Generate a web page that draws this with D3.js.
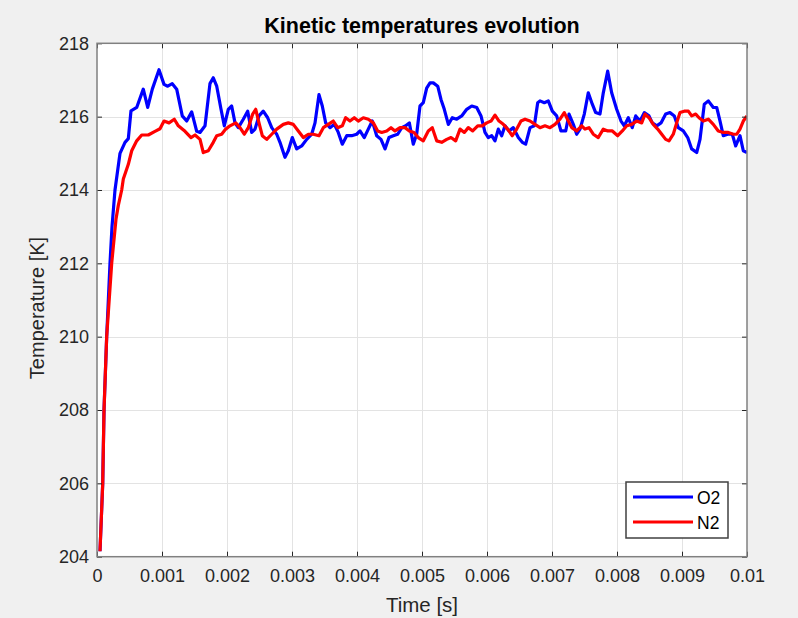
<!DOCTYPE html>
<html>
<head>
<meta charset="utf-8">
<script src="https://cdn.jsdelivr.net/npm/d3@7"></script>
<style>
  html, body { margin: 0; padding: 0; background: #f0f0f0; }
  svg { display: block; font-family: "Liberation Sans", Arial, Helvetica, sans-serif; }
</style>
</head>
<body>
<svg id="chart" width="798" height="618"></svg>
<script>
// Kinetic temperature of O2 and N2 versus simulation time.
// Time samples are given in milliseconds, temperatures in kelvin.
const o2TimeMs = [
  0.046, 0.088, 0.108, 0.149, 0.200, 0.231, 0.277, 0.354, 0.431, 0.482,
  0.523, 0.611, 0.712, 0.780, 0.851, 0.954, 1.031, 1.088, 1.158, 1.226,
  1.312, 1.380, 1.457, 1.534, 1.585, 1.662, 1.738, 1.789, 1.842, 1.908,
  1.958, 2.020, 2.072, 2.123, 2.174, 2.251, 2.318, 2.380, 2.431, 2.492,
  2.558, 2.626, 2.688, 2.765, 2.815, 2.892, 2.943, 3.005, 3.072, 3.149,
  3.226, 3.303, 3.354, 3.415, 3.466, 3.518, 3.585, 3.651, 3.712, 3.774,
  3.842, 3.918, 3.995, 4.046, 4.112, 4.174, 4.235, 4.303, 4.369, 4.431,
  4.492, 4.558, 4.626, 4.688, 4.749, 4.805, 4.866, 4.918, 4.969, 5.020,
  5.072, 5.123, 5.174, 5.242, 5.292, 5.343, 5.405, 5.466, 5.534, 5.611,
  5.688, 5.765, 5.842, 5.908, 5.969, 6.020, 6.072, 6.123, 6.174, 6.226,
  6.277, 6.338, 6.405, 6.482, 6.543, 6.595, 6.662, 6.728, 6.780, 6.815,
  6.882, 6.943, 7.005, 7.072, 7.138, 7.211, 7.262, 7.328, 7.380, 7.431,
  7.497, 7.558, 7.620, 7.672, 7.738, 7.789, 7.857, 7.918, 7.995, 8.062,
  8.112, 8.174, 8.235, 8.288, 8.354, 8.420, 8.492, 8.543, 8.611, 8.677,
  8.749, 8.815, 8.882, 8.943, 9.020, 9.088, 9.149, 9.226, 9.277, 9.343,
  9.405, 9.482, 9.534, 9.585, 9.635, 9.703, 9.774, 9.826, 9.892, 9.943,
  10.000
];
const o2Temp = [
  204.15, 206.0, 208.0, 210.0, 212.0, 213.0, 214.0, 215.0, 215.3, 215.4,
  216.16, 216.25, 216.75, 216.25, 216.75, 217.28, 216.88, 216.83, 216.9, 216.75,
  216.02, 215.88, 216.13, 215.6, 215.57, 215.75, 216.9, 217.06, 216.83, 216.2,
  215.75, 216.2, 216.29, 215.83, 215.7, 215.93, 216.15, 215.57, 215.66, 216.02,
  216.15, 215.97, 215.7, 215.52, 215.3, 214.89, 215.07, 215.43, 215.12, 215.2,
  215.38, 215.52, 215.83, 216.6, 216.29, 215.83, 215.7, 215.79, 215.57, 215.25,
  215.48, 215.48, 215.52, 215.61, 215.43, 215.66, 215.88, 215.48, 215.38, 215.12,
  215.43, 215.48, 215.52, 215.7, 215.75, 215.83, 215.25, 215.52, 216.29, 216.38,
  216.78, 216.92, 216.92, 216.83, 216.47, 216.2, 215.79, 215.97, 215.93, 216.02,
  216.2, 216.29, 216.25, 216.02, 215.57, 215.43, 215.48, 215.34, 215.66, 215.48,
  215.75, 215.61, 215.7, 215.43, 215.3, 215.25, 215.7, 215.75, 216.38, 216.43,
  216.38, 216.43, 216.15, 216.02, 215.61, 215.61, 216.07, 215.79, 215.52, 215.66,
  216.07, 216.65, 216.34, 216.11, 216.07, 216.65, 217.24, 216.65, 216.2, 215.88,
  215.75, 215.97, 215.7, 216.02, 215.88, 216.11, 216.02, 215.83, 215.75, 215.83,
  216.07, 216.11, 216.02, 215.7, 215.61, 215.43, 215.12, 215.02, 215.38, 216.34,
  216.43, 216.25, 216.25, 215.88, 215.48, 215.52, 215.52, 215.2, 215.48, 215.07,
  215.02
];
const n2TimeMs = [
  0.046, 0.088, 0.108, 0.149, 0.226, 0.292, 0.328, 0.380, 0.405, 0.482,
  0.534, 0.611, 0.688, 0.789, 0.892, 0.969, 1.031, 1.108, 1.189, 1.251,
  1.354, 1.446, 1.508, 1.585, 1.635, 1.712, 1.789, 1.842, 1.918, 1.980,
  2.046, 2.134, 2.200, 2.266, 2.328, 2.395, 2.442, 2.492, 2.543, 2.611,
  2.688, 2.765, 2.866, 2.943, 3.020, 3.097, 3.174, 3.251, 3.328, 3.415,
  3.482, 3.558, 3.635, 3.703, 3.774, 3.826, 3.892, 3.958, 4.020, 4.097,
  4.174, 4.251, 4.318, 4.380, 4.457, 4.523, 4.585, 4.662, 4.738, 4.805,
  4.877, 4.943, 5.020, 5.097, 5.158, 5.226, 5.303, 5.380, 5.446, 5.518,
  5.585, 5.651, 5.712, 5.780, 5.857, 5.928, 5.995, 6.062, 6.123, 6.185,
  6.251, 6.318, 6.389, 6.457, 6.523, 6.585, 6.662, 6.738, 6.815, 6.892,
  6.969, 7.046, 7.123, 7.189, 7.251, 7.303, 7.380, 7.457, 7.508, 7.569,
  7.635, 7.712, 7.789, 7.857, 7.928, 8.011, 8.082, 8.149, 8.226, 8.303,
  8.380, 8.431, 8.492, 8.558, 8.626, 8.688, 8.749, 8.800, 8.866, 8.918,
  8.969, 9.035, 9.097, 9.149, 9.211, 9.262, 9.328, 9.405, 9.482, 9.558,
  9.635, 9.712, 9.789, 9.842, 9.892, 9.943, 10.000
];
const n2Temp = [
  204.15, 206.0, 208.0, 210.0, 212.0, 213.2, 213.58, 214.0, 214.3, 214.7,
  215.07, 215.34, 215.5, 215.5, 215.6, 215.67, 215.88, 215.83, 215.93, 215.75,
  215.6, 215.43, 215.5, 215.38, 215.02, 215.07, 215.3, 215.48, 215.52, 215.66,
  215.75, 215.83, 215.7, 215.52, 215.7, 216.07, 216.2, 215.83, 215.48, 215.38,
  215.52, 215.66, 215.79, 215.83, 215.79, 215.61, 215.43, 215.52, 215.52, 215.48,
  215.7, 215.79, 215.88, 215.7, 215.75, 215.97, 215.88, 215.97, 215.88, 215.97,
  215.93, 215.83, 215.61, 215.57, 215.61, 215.7, 215.61, 215.7, 215.7, 215.61,
  215.57, 215.43, 215.34, 215.61, 215.7, 215.34, 215.3, 215.38, 215.43, 215.34,
  215.66, 215.57, 215.7, 215.61, 215.75, 215.75, 215.83, 215.88, 216.04, 215.88,
  215.79, 215.66, 215.48, 215.66, 215.88, 215.93, 215.88, 215.79, 215.7, 215.75,
  215.7, 215.79, 215.93, 216.11, 215.88, 215.7, 215.61, 215.75, 215.66, 215.7,
  215.52, 215.43, 215.66, 215.61, 215.61, 215.48, 215.61, 215.75, 215.79, 215.88,
  215.83, 216.07, 215.97, 215.79, 215.66, 215.52, 215.38, 215.34, 215.52, 215.83,
  216.11, 216.15, 216.15, 216.02, 216.07, 215.97, 215.88, 215.93, 215.79, 215.61,
  215.57, 215.57, 215.52, 215.52, 215.66, 215.88, 216.02
];

const xTickValues = [0, 0.001, 0.002, 0.003, 0.004, 0.005, 0.006, 0.007, 0.008, 0.009, 0.01];
const xTickLabels = ["0", "0.001", "0.002", "0.003", "0.004", "0.005", "0.006", "0.007", "0.008", "0.009", "0.01"];
const yTickValues = [204, 206, 208, 210, 212, 214, 216, 218];
const yTickLabels = ["204", "206", "208", "210", "212", "214", "216", "218"];

const seriesNames = ["O2", "N2"];
const seriesColors = ["#0000ff", "#ff0000"];

const W = 798, H = 618;
const plot = { left: 97, right: 747, top: 43.3, bottom: 556.7 };

const svg = d3.select("#chart");
svg.append("rect").attr("width", W).attr("height", H).attr("fill", "#f0f0f0");

const x = d3.scaleLinear().domain([0, 0.01]).range([plot.left, plot.right]);
const y = d3.scaleLinear().domain([204, 218]).range([plot.bottom, plot.top]);

// Axes background
svg.append("rect")
  .attr("x", plot.left).attr("y", plot.top)
  .attr("width", plot.right - plot.left).attr("height", plot.bottom - plot.top)
  .attr("fill", "#ffffff");

// Grid
const grid = svg.append("g").attr("stroke", "#e3e3e3").attr("stroke-width", 1);
grid.selectAll("line.gx").data(xTickValues.slice(1, -1)).join("line")
  .attr("x1", d => Math.round(x(d)) + 0.5).attr("x2", d => Math.round(x(d)) + 0.5)
  .attr("y1", plot.top).attr("y2", plot.bottom);
grid.selectAll("line.gy").data(yTickValues.slice(1, -1)).join("line")
  .attr("y1", d => Math.round(y(d)) + 0.5).attr("y2", d => Math.round(y(d)) + 0.5)
  .attr("x1", plot.left).attr("x2", plot.right);

// Series
const series = [
  { name: seriesNames[0], color: seriesColors[0], t: o2TimeMs, v: o2Temp },
  { name: seriesNames[1], color: seriesColors[1], t: n2TimeMs, v: n2Temp }
];
const line = d3.line().x(d => x(d[0])).y(d => y(d[1]));
svg.append("clipPath").attr("id", "plotClip").append("rect")
  .attr("x", plot.left).attr("y", plot.top)
  .attr("width", plot.right - plot.left).attr("height", plot.bottom - plot.top);
const lines = svg.append("g").attr("clip-path", "url(#plotClip)");
series.forEach(s => {
  const pts = s.t.map((t, i) => [t / 1000, s.v[i]]);
  lines.append("path")
    .datum(pts)
    .attr("d", line)
    .attr("fill", "none")
    .attr("stroke", s.color)
    .attr("stroke-width", 3.2)
    .attr("stroke-linejoin", "round");
});

// Axes with inward ticks on all four sides
const tickLen = 5;
const axisColor = "#262626";
const xAxisB = d3.axisBottom(x).tickValues(xTickValues).tickSizeInner(-tickLen).tickSizeOuter(0)
  .tickPadding(13).tickFormat((d, i) => xTickLabels[i]);
const xAxisT = d3.axisTop(x).tickValues(xTickValues).tickSizeInner(-tickLen).tickSizeOuter(0).tickFormat("");
const yAxisL = d3.axisLeft(y).tickValues(yTickValues).tickSizeInner(-tickLen).tickSizeOuter(0)
  .tickPadding(8).tickFormat((d, i) => yTickLabels[i]);
const yAxisR = d3.axisRight(y).tickValues(yTickValues).tickSizeInner(-tickLen).tickSizeOuter(0).tickFormat("");

function styleAxis(g) {
  g.select(".domain").remove();
  g.selectAll(".tick line").attr("stroke", axisColor).attr("stroke-width", 1);
  g.selectAll(".tick text").attr("fill", "#262626").attr("font-size", 18);
}
svg.append("g").attr("transform", `translate(0,${plot.bottom})`).call(xAxisB).call(styleAxis);
svg.append("g").attr("transform", `translate(0,${plot.top})`).call(xAxisT).call(styleAxis);
svg.append("g").attr("transform", `translate(${plot.left},0)`).call(yAxisL).call(styleAxis);
svg.append("g").attr("transform", `translate(${plot.right},0)`).call(yAxisR).call(styleAxis);

// Axes box
svg.append("rect")
  .attr("x", plot.left).attr("y", plot.top)
  .attr("width", plot.right - plot.left).attr("height", plot.bottom - plot.top)
  .attr("fill", "none").attr("stroke", "#808080").attr("stroke-width", 1.5);

// Title and axis labels
svg.append("text")
  .attr("x", (plot.left + plot.right) / 2).attr("y", 33)
  .attr("text-anchor", "middle").attr("font-weight", "bold").attr("font-size", 21.5)
  .attr("fill", "#000").text("Kinetic temperatures evolution");
svg.append("text")
  .attr("x", (plot.left + plot.right) / 2).attr("y", 612)
  .attr("text-anchor", "middle").attr("font-size", 20.5).attr("fill", "#262626")
  .text("Time [s]");
svg.append("text")
  .attr("transform", `translate(44,${(plot.top + plot.bottom) / 2 + 8}) rotate(-90)`)
  .attr("text-anchor", "middle").attr("font-size", 20).attr("fill", "#262626")
  .text("Temperature [K]");

// Legend
const legend = svg.append("g").attr("transform", "translate(626,482)");
legend.append("rect").attr("width", 102).attr("height", 56)
  .attr("fill", "#ffffff").attr("stroke", "#404040").attr("stroke-width", 1.5);
series.forEach((s, i) => {
  const ly = 15 + i * 25;
  legend.append("line").attr("x1", 7).attr("x2", 67).attr("y1", ly).attr("y2", ly)
    .attr("stroke", s.color).attr("stroke-width", 3.2);
  legend.append("text").attr("x", 71).attr("y", ly + 7)
    .attr("font-size", 17.5).attr("fill", "#000").text(s.name);
});
</script>
</body>
</html>
